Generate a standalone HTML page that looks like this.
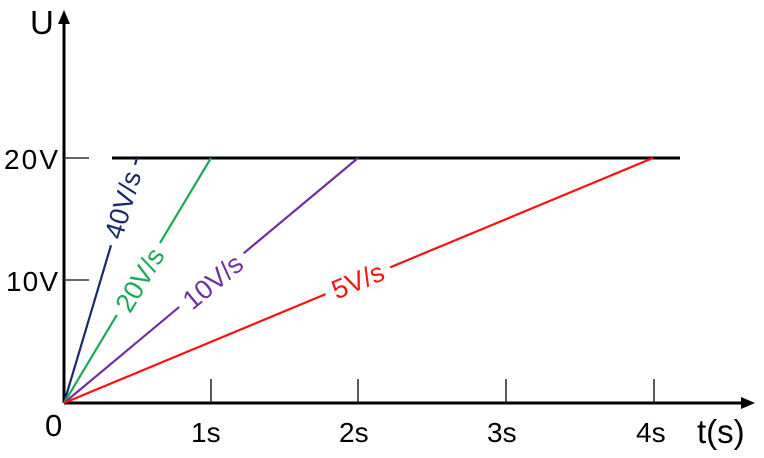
<!DOCTYPE html>
<html><head><style>body{margin:0;background:#fff}svg{display:block}</style></head><body>
<svg width="764" height="458" xmlns="http://www.w3.org/2000/svg" font-family="Liberation Sans, sans-serif">
<rect width="764" height="458" fill="#fff"/>
<line x1="64" y1="403" x2="64" y2="20" stroke="#000" stroke-width="3"/>
<polygon points="64,10 58,24 70,24" fill="#000"/>
<line x1="64" y1="403" x2="742" y2="403" stroke="#000" stroke-width="3"/>
<polygon points="755,403 741,397 741,409" fill="#000"/>
<line x1="64" y1="158" x2="89" y2="158" stroke="#333" stroke-width="1.5"/>
<line x1="64" y1="280" x2="89" y2="280" stroke="#333" stroke-width="1.5"/>
<line x1="112" y1="158" x2="680" y2="158" stroke="#000" stroke-width="3"/>
<g stroke="#222" stroke-width="1.5">
<line x1="211" y1="379" x2="211" y2="403"/><line x1="358" y1="379" x2="358" y2="403"/>
<line x1="506" y1="379" x2="506" y2="403"/><line x1="654" y1="379" x2="654" y2="403"/>
</g>
<g stroke-width="2.2">
<line x1="64" y1="403" x2="137" y2="158" stroke="#1a2a6c"/>
<line x1="64" y1="403" x2="211" y2="158" stroke="#1aaa55"/>
<line x1="64" y1="403" x2="358" y2="158" stroke="#7030a0"/>
<line x1="64" y1="403" x2="653" y2="158" stroke="#ff1010"/>
</g>
<g font-size="28">
<text x="30" y="34" font-size="33">U</text>
<text x="4" y="169" textLength="54">20V</text>
<text x="6" y="291" textLength="52">10V</text>
<text x="45" y="436" font-size="31">0</text>
<text x="191" y="442">1s</text>
<text x="339" y="442">2s</text>
<text x="487" y="442">3s</text>
<text x="636" y="442">4s</text>
<text x="697" y="443" font-size="33">t(s)</text>
<g text-anchor="middle" dominant-baseline="central" font-size="27">
<g transform="translate(123,205) rotate(-73.4)"><rect x="-42" y="-14" width="84" height="28" fill="#fff"/><text fill="#1a2a6c">40V/s</text></g>
<g transform="translate(140,280) rotate(-59)"><rect x="-42" y="-14" width="84" height="28" fill="#fff"/><text fill="#1aaa55">20V/s</text></g>
<g transform="translate(213,282) rotate(-39.8)"><rect x="-42" y="-14" width="84" height="28" fill="#fff"/><text fill="#7030a0">10V/s</text></g>
<g transform="translate(358,281) rotate(-22.6)"><rect x="-35" y="-14" width="70" height="28" fill="#fff"/><text fill="#ff1010">5V/s</text></g>
</g>
</g>
</svg>
</body></html>
